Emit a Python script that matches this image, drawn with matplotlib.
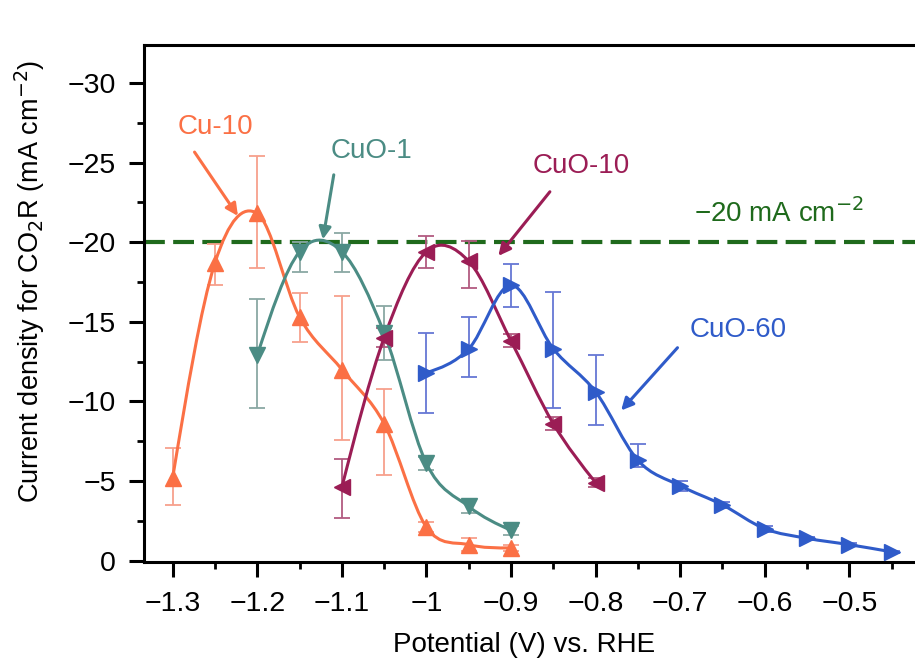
import numpy as np
import matplotlib
matplotlib.use("Agg")
import matplotlib.pyplot as plt
from matplotlib.path import Path
from matplotlib.patches import PathPatch
from matplotlib.ticker import MultipleLocator, FuncFormatter

plt.rcParams['font.family'] = ['Liberation Sans', 'DejaVu Sans']

# ---- data ----
cu10_x = [-1.30, -1.25, -1.20, -1.15, -1.10, -1.05, -1.00, -0.95, -0.90]
cu10_y = [-5.2, -18.7, -21.8, -15.3, -12.0, -8.6, -2.1, -1.0, -0.8]
cu10_lo = [-7.1, -19.9, -25.4, -16.8, -16.6, -10.8, -2.4, -1.4, -1.0]
cu10_hi = [-3.5, -17.3, -18.4, -13.7, -7.6, -5.4, -1.8, -0.6, -0.6]

cuo1_x = [-1.20, -1.15, -1.10, -1.05, -1.00, -0.95, -0.90]
cuo1_y = [-12.9, -19.4, -19.4, -14.3, -6.1, -3.4, -1.9]
cuo1_lo = [-16.4, -20.0, -20.6, -16.0, -6.5, -3.8, -2.2]
cuo1_hi = [-9.6, -18.1, -18.1, -12.6, -5.7, -3.0, -1.6]

cuo10_x = [-1.10, -1.05, -1.00, -0.95, -0.90, -0.85, -0.80]
cuo10_y = [-4.6, -14.0, -19.4, -18.8, -13.8, -8.6, -4.9]
cuo10_lo = [-6.4, -14.6, -20.4, -20.1, -14.2, -9.0, -5.2]
cuo10_hi = [-2.7, -13.4, -18.4, -17.1, -13.4, -8.2, -4.6]

cuo60_x = [-1.00, -0.95, -0.90, -0.85, -0.80, -0.75, -0.70, -0.65, -0.60, -0.55, -0.50, -0.45]
cuo60_y = [-11.8, -13.3, -17.3, -13.3, -10.6, -6.3, -4.7, -3.5, -2.0, -1.4, -1.0, -0.55]
cuo60_lo = [-14.3, -15.3, -18.6, -16.9, -12.9, -7.3, -5.0, -3.7, -2.2, -1.5, -1.1, -0.6]
cuo60_hi = [-9.3, -11.5, -15.9, -9.6, -8.5, -5.9, -4.4, -3.3, -1.8, -1.3, -0.9, -0.5]

target = -20


def smooth_path(x, y):
    # Catmull-Rom style spline as cubic Bezier segments, natural ends
    p = np.column_stack([x, y])
    n = len(p)
    t = np.zeros_like(p)
    for i in range(1, n - 1):
        t[i] = (p[i + 1] - p[i - 1]) / 2.0
    t[0] = (3 * (p[1] - p[0]) - t[1]) / 2.0
    t[-1] = (3 * (p[-1] - p[-2]) - t[-2]) / 2.0
    verts = [p[0]]
    codes = [Path.MOVETO]
    for i in range(n - 1):
        verts += [p[i] + t[i] / 3.0, p[i + 1] - t[i + 1] / 3.0, p[i + 1]]
        codes += [Path.CURVE4] * 3
    return Path(verts, codes)


fig = plt.figure(figsize=(9.15, 6.62), dpi=100)
ax = fig.add_axes([0.157, 0.151, 0.848, 0.781])

series = [
    (cu10_x, cu10_y, cu10_lo, cu10_hi, '#fb7045', '#f7a08c', '^'),
    (cuo1_x, cuo1_y, cuo1_lo, cuo1_hi, '#4b8c84', '#8aa8a4', 'v'),
    (cuo10_x, cuo10_y, cuo10_lo, cuo10_hi, '#9b1d55', '#b25a80', '<'),
    (cuo60_x, cuo60_y, cuo60_lo, cuo60_hi, '#2f5bc9', '#6677d4', '>'),
]

for x, y, lo, hi, col, ecol, mk in series:
    y = np.array(y)
    yerr = np.vstack([y - np.array(lo), np.array(hi) - y])
    ax.errorbar(x, y, yerr=np.abs(yerr), fmt='none', ecolor=ecol,
                elinewidth=1.3, capsize=6, capthick=1.3, zorder=2)

ax.axhline(target, color='#1f6a1c', lw=3, dashes=(5, 2), zorder=1)

for x, y, lo, hi, col, ecol, mk in series:
    ax.add_patch(PathPatch(smooth_path(x, y), facecolor='none',
                           edgecolor=col, lw=2.2, zorder=3))
    ax.plot(x, y, linestyle='none', marker=mk, ms=12, color=col, zorder=4)

# annotations
ann_kw = dict(fontsize=20, ha='center', va='center')
arr = dict(arrowstyle='-|>', lw=2.2, mutation_scale=18)
ax.text(-1.250, -27.2, 'Cu-10', color='#fb7045', **ann_kw)
ax.annotate('', xy=(-1.221, -21.5), xytext=(-1.276, -25.8),
            arrowprops=dict(color='#fb7045', **arr))
ax.text(-1.065, -25.7, 'CuO-1', color='#4b8c84', **ann_kw)
ax.annotate('', xy=(-1.123, -20.0), xytext=(-1.109, -24.4),
            arrowprops=dict(color='#4b8c84', **arr))
ax.text(-0.817, -24.8, 'CuO-10', color='#9b1d55', **ann_kw)
ax.annotate('', xy=(-0.917, -19.0), xytext=(-0.852, -23.3),
            arrowprops=dict(color='#9b1d55', **arr))
ax.text(-0.632, -14.5, 'CuO-60', color='#2f5bc9', **ann_kw)
ax.annotate('', xy=(-0.772, -9.3), xytext=(-0.701, -13.5),
            arrowprops=dict(color='#2f5bc9', **arr))
ax.text(-0.583, -21.8, '\u221220 mA cm$^{\u22122}$', color='#1f6a1c', **ann_kw)

ax.set_xlim(-1.3343, -0.417)
ax.set_ylim(0.09, -32.38)

ax.xaxis.set_major_locator(MultipleLocator(0.1))
ax.xaxis.set_minor_locator(MultipleLocator(0.05))
ax.yaxis.set_major_locator(MultipleLocator(5))
ax.yaxis.set_minor_locator(MultipleLocator(2.5))
fmt = FuncFormatter(lambda v, pos: f"{v:g}".replace('-', '\u2212'))
ax.xaxis.set_major_formatter(fmt)
ax.yaxis.set_major_formatter(fmt)

ax.spines['right'].set_visible(False)
for s in ['left', 'bottom', 'top']:
    ax.spines[s].set_linewidth(2.2)
ax.tick_params(which='major', direction='out', length=11, width=2.2, labelsize=20.5)
ax.tick_params(axis='x', which='major', pad=10)
ax.tick_params(axis='y', which='major', pad=9)
ax.tick_params(which='minor', direction='out', length=5, width=2)
ax.tick_params(top=False, right=False)

ax.set_xlabel('Potential (V) vs. RHE', fontsize=20)
ax.set_ylabel('Current density for CO$_2$R (mA cm$^{\u22122}$)', fontsize=19.5)
ax.xaxis.set_label_coords(0.49, -0.135)
ax.yaxis.set_label_coords(-0.125, 0.543)

fig.savefig('out.png', dpi=100)
